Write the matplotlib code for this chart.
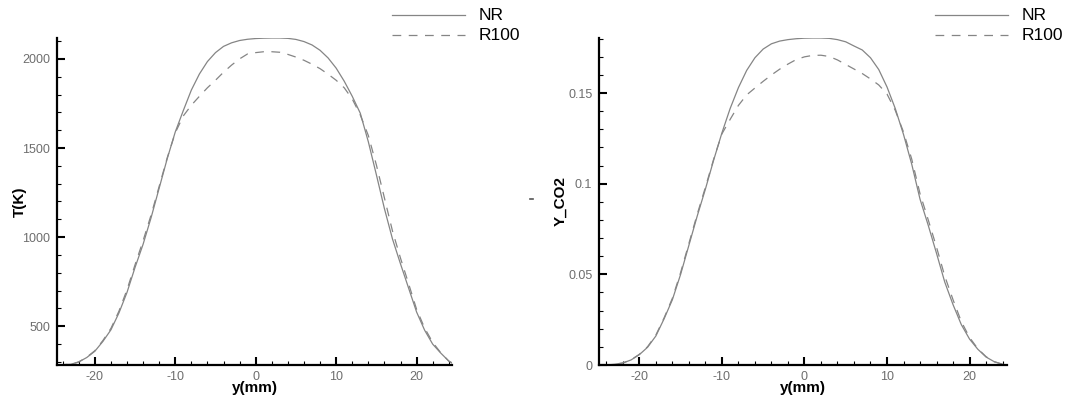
import matplotlib
matplotlib.use("Agg")
import matplotlib.pyplot as plt
from matplotlib.lines import Line2D
from matplotlib.ticker import MultipleLocator

plt.rcParams['font.family'] = ['Liberation Sans', 'DejaVu Sans']
plt.rcParams['axes.unicode_minus'] = False

# ---------------- data ----------------
y_mm = [-24.5, -24, -23, -22, -21, -20, -19, -18, -17, -16, -15, -14, -13, -12, -11, -10,
        -9, -8, -7, -6, -5, -4, -3, -2, -1, 0, 1, 2, 3, 4, 5, 6, 7, 8, 9, 10,
        11, 12, 13, 14, 15, 16, 17, 18, 19, 20, 21, 22, 23, 24, 24.5]

T_NR = [285, 285, 287, 300, 325, 360, 415, 480, 575, 690, 830, 960, 1110, 1275, 1440, 1590,
        1710, 1825, 1915, 1985, 2035, 2070, 2090, 2103, 2110, 2114, 2116, 2117, 2117, 2115, 2109, 2097, 2078, 2048, 2005, 1948,
        1875, 1790, 1695, 1535, 1350, 1160, 990, 850, 715, 580, 478, 400, 350, 305, 292]

T_R100 = [285, 285, 287, 300, 327, 363, 420, 488, 585, 705, 845, 980, 1125, 1285, 1445, 1585,
          1680, 1740, 1790, 1838, 1880, 1925, 1965, 2000, 2028, 2035, 2040, 2040, 2037, 2025, 2010, 1992, 1970, 1945, 1914, 1880,
          1838, 1775, 1685, 1570, 1405, 1220, 1035, 882, 740, 595, 490, 410, 352, 305, 292]

CO2_NR = [0.0, 0.0, 0.0004, 0.0011, 0.0028, 0.0057, 0.0098, 0.016, 0.0255, 0.036, 0.050, 0.066, 0.082, 0.097, 0.113, 0.128,
          0.1415, 0.153, 0.1625, 0.1695, 0.1743, 0.1772, 0.1787, 0.1795, 0.1800, 0.1803, 0.1804, 0.1804, 0.1802, 0.1795, 0.1783, 0.176, 0.1738, 0.1695, 0.1630, 0.1534,
          0.1415, 0.1272, 0.1107, 0.0915, 0.077, 0.0616, 0.0457, 0.0333, 0.0223, 0.0143, 0.0087, 0.0044, 0.0018, 0.0004, 0.0]

CO2_R100 = [0.0, 0.0, 0.0004, 0.0011, 0.0029, 0.0059, 0.0101, 0.0165, 0.026, 0.0368, 0.051, 0.067, 0.083, 0.098, 0.1135, 0.1275,
            0.1355, 0.1432, 0.149, 0.1528, 0.1565, 0.160, 0.1632, 0.166, 0.1685, 0.170, 0.1708, 0.1709, 0.1702, 0.1683, 0.1658, 0.1633, 0.1608, 0.1578, 0.1545, 0.1495,
            0.1405, 0.1285, 0.1135, 0.0945, 0.080, 0.065, 0.049, 0.036, 0.024, 0.0152, 0.009, 0.0046, 0.0018, 0.0004, 0.0]

series_labels = ['NR', 'R100']
x_label = 'y(mm)'
y_labels = ['T(K)', 'Y_CO2']

# ---------------- figure ----------------
W, H = 1067, 400
fig = plt.figure(figsize=(W / 100, H / 100), dpi=100)

def px_axes(l, r, t, b):
    return fig.add_axes([l / W, 1 - b / H, (r - l) / W, (b - t) / H])

ax1 = px_axes(57, 452, 38, 365)
ax2 = px_axes(599.3, 1006.7, 38, 365)

line_col = '#858585'
tick_col = '#6e6e6e'

panels = [
    (ax1, T_NR, T_R100, y_labels[0], (-24.7, 24.4), (283, 2117), 500, 100),
    (ax2, CO2_NR, CO2_R100, y_labels[1], (-24.85, 24.5), (0, 0.1804), 0.05, 0.01),
]

for ax, nr, r100, ylab, xl, yl, ymaj, ymin in panels:
    ax.plot(y_mm, nr, color=line_col, lw=0.9, solid_joinstyle='round', label=series_labels[0])
    ax.plot(y_mm, r100, color=line_col, lw=0.9, dashes=(7, 6), label=series_labels[1])
    ax.set_xlim(*xl)
    ax.set_ylim(*yl)
    for s in ['top', 'right']:
        ax.spines[s].set_visible(False)
    for s in ['left', 'bottom']:
        ax.spines[s].set_linewidth(1.6)
        ax.spines[s].set_color('black')
    ax.xaxis.set_major_locator(MultipleLocator(10))
    ax.xaxis.set_minor_locator(MultipleLocator(2))
    ax.yaxis.set_major_locator(MultipleLocator(ymaj))
    ax.yaxis.set_minor_locator(MultipleLocator(ymin))
    ax.tick_params(which='major', direction='in', length=5.8, width=1.5, color='black',
                   labelsize=9, labelcolor=tick_col, pad=4)
    ax.tick_params(which='minor', direction='in', length=3, width=0.8, color='black')
    ax.tick_params(axis='y', which='major', pad=5)
    ax.set_xlabel(x_label, fontsize=11, fontweight='bold')
    ax.set_ylabel(ylab, fontsize=11, fontweight='bold')
    ax.xaxis.set_label_coords(0.5, -0.05)
    ax.patch.set_alpha(0)

ax1.yaxis.set_label_coords(-0.076, 0.5)
ax2.yaxis.set_label_coords(-0.077, 0.5)
ax2.yaxis.set_major_formatter(matplotlib.ticker.FuncFormatter(lambda v, p: ('%g' % round(v, 4))))

# legends (Tecplot-style, no frame)
for lx0, lx1, tx in [(392, 465, 479), (935, 1008, 1022)]:
    for row, (lab, ls) in enumerate(zip(series_labels, ['-', '--'])):
        yy = 1 - (15 + 20 * row) / H
        kw = dict(color=line_col, lw=0.9, transform=fig.transFigure)
        if ls == '--':
            kw['dashes'] = (7, 6)
        fig.add_artist(Line2D([lx0 / W, lx1 / W], [yy, yy], **kw))
        fig.text(tx / W, yy, lab, fontsize=12.5, color='black', va='center', ha='left')

# small stray mark present in the original image
fig.add_artist(Line2D([529.5 / W, 532.5 / W], [1 - 199 / H, 1 - 199 / H], color='#555555', lw=1.2,
                      transform=fig.transFigure))

fig.savefig('out.png', dpi=100)
